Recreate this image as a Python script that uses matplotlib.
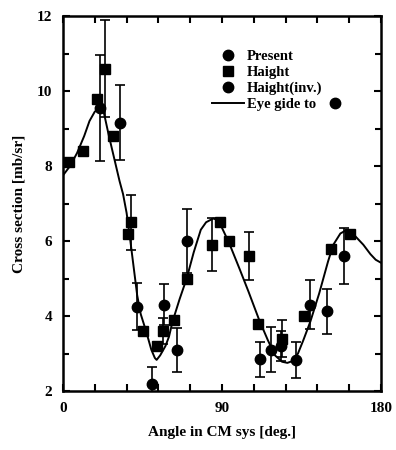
import matplotlib
matplotlib.use("Agg")
import matplotlib.pyplot as plt
import numpy as np

plt.rcParams['font.family'] = ['Liberation Serif', 'DejaVu Serif']
plt.rcParams['font.weight'] = 'bold'

# Haight (squares)
sq_angle = [3.4, 11.1, 19.0, 23.8, 28.3, 37.0, 38.3, 45.4, 53.0, 56.6, 62.8, 70.0,
            84.5, 89.0, 93.8, 105.4, 110.2, 124.0, 136.4, 151.7, 162.4]
sq_val = [8.1, 8.4, 9.8, 10.6, 8.8, 6.2, 6.5, 3.6, 3.2, 3.6, 3.9, 5.0,
          5.9, 6.5, 6.0, 5.6, 3.8, 3.4, 4.0, 5.8, 6.2]
sq_err = [0, 0, 0, 1.3, 0, 0, 0.73, 0, 0, 0.35, 0, 0,
          0.7, 0, 0, 0.65, 0, 0.5, 0, 0, 0]

# Present (circles)
pr_angle = [21.0, 32.0, 50.5, 64.7, 70.0, 111.5, 131.9, 159.2]
pr_val = [9.55, 9.15, 2.2, 3.1, 6.0, 2.85, 2.83, 5.6]
pr_err = [1.42, 1.0, 0.43, 0.58, 0.86, 0.47, 0.47, 0.74]

# Haight(inv.) (circles)
inv_angle = [42.0, 57.0, 117.7, 123.2, 139.8, 149.2]
inv_val = [4.25, 4.3, 3.1, 3.2, 4.3, 4.13]
inv_err = [0.62, 0.55, 0.6, 0.4, 0.65, 0.6]

# eye guide line
guide_angle = [0, 4, 8, 12, 15, 18, 21, 23, 26, 30, 32, 34, 36, 38, 40, 42, 44, 47, 50,
               52, 53, 55, 58, 60, 62, 66, 70, 74, 78, 81, 85, 88, 90, 94, 100, 105,
               111, 116, 120, 124, 127, 130, 133, 136, 140, 145, 150, 153, 157, 160,
               163, 166, 170, 174, 177, 180]
guide_val = [7.75, 8.0, 8.35, 8.8, 9.2, 9.45, 9.55, 9.45, 8.8, 8.0, 7.6, 7.25, 6.75,
             6.05, 5.3, 4.55, 4.05, 3.6, 3.1, 2.88, 2.83, 2.95, 3.2, 3.45, 3.85, 4.45,
             5.0, 5.7, 6.3, 6.5, 6.6, 6.55, 6.35, 5.95, 5.25, 4.65, 3.9, 3.35, 2.95,
             2.78, 2.75, 2.8, 3.0, 3.35, 3.85, 4.6, 5.45, 5.9, 6.2, 6.28, 6.25, 6.1,
             5.9, 5.65, 5.5, 5.42]

fig = plt.figure(figsize=(3.96, 4.5), dpi=100)
ax = fig.add_axes([63 / 396, 1 - 391 / 450, 318 / 396, 375 / 450])

ax.plot(guide_angle, guide_val, color='black', lw=1.4, label='Eye gide to')

eb = dict(fmt='none', ecolor='black', elinewidth=1.2, capsize=3.5, capthick=1.2)
sq_a = np.array(sq_angle)
sq_v = np.array(sq_val)
sq_e = np.array(sq_err)
m = sq_e > 0
ax.errorbar(sq_a[m], sq_v[m], yerr=sq_e[m], **eb)
ax.errorbar(pr_angle, pr_val, yerr=pr_err, **eb)
ax.errorbar(inv_angle, inv_val, yerr=inv_err, **eb)

ax.plot(pr_angle, pr_val, 'o', color='black', ms=7.5, label='Present', zorder=4)
ax.plot(sq_angle, sq_val, 's', color='black', ms=7, label='Haight', zorder=4)
ax.plot(inv_angle, inv_val, 'o', color='black', ms=7.5, label='Haight(inv.)', zorder=4)

ax.set_xlim(0, 180)
ax.set_ylim(2, 12)
ax.set_xticks(np.arange(0, 181, 18))
ax.set_xticklabels(['0', '', '', '', '', '90', '', '', '', '', '180'])
ax.set_yticks([2, 4, 6, 8, 10, 12])
ax.set_yticks(np.arange(3, 12, 2), minor=True)
ax.tick_params(which='both', direction='in', top=True, right=True, width=1.5,
               labelsize=11, pad=8)
ax.tick_params(which='major', length=5)
ax.tick_params(which='minor', length=4)
for s in ax.spines.values():
    s.set_linewidth(1.8)

ax.set_xlabel('Angle in CM sys [deg.]', fontsize=11, fontweight='bold', labelpad=8)
ax.set_ylabel('Cross section [mb/sr]', fontsize=11, fontweight='bold', labelpad=8)

h, l = ax.get_legend_handles_labels()
order = [1, 2, 3, 0]
ax.legend([h[i] for i in order], [l[i] for i in order], loc='upper left',
          bbox_to_anchor=(0.445, 0.93), frameon=False, fontsize=10.5,
          handlelength=2.2, handletextpad=0.2, labelspacing=0.2, borderpad=0,
          numpoints=1)
# the circle after "Eye gide to"
ax.plot([0.855], [0.769], 'o', color='black', ms=7.5, transform=ax.transAxes,
        clip_on=False)

fig.savefig('out.png', dpi=100)
